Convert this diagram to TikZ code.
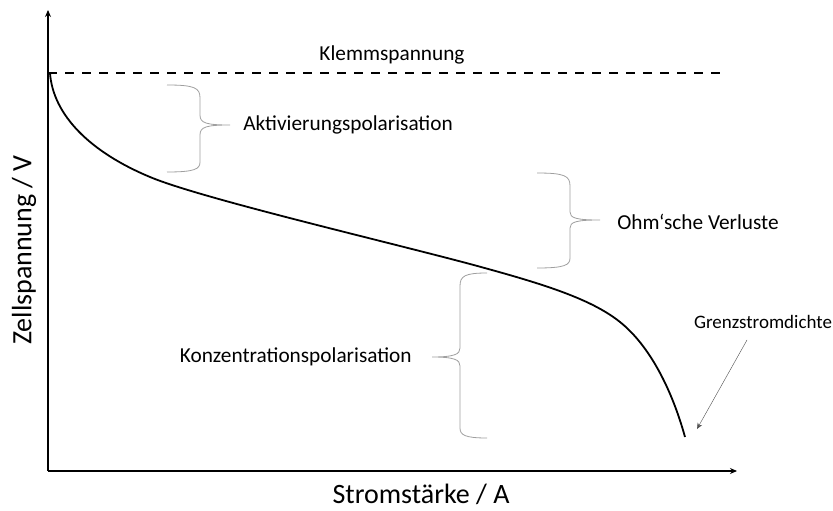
\documentclass[tikz,border=0pt]{standalone}
\usepackage{fontspec}
\setmainfont{Carlito}
\usetikzlibrary{arrows.meta, positioning}

\begin{document}
\begin{tikzpicture}[
            x = 1pt, y = -1pt, % pixel coordinates, y downwards
            > = {Stealth[length=7pt, width=6pt]}, % arrow head style
            semithick % line style
        ]

        \tikzstyle{axis}=[->, line width = 1.8pt]
        \tikzstyle{axislabel}=[font = \fontsize{28}{32}\selectfont, inner sep = 0pt]
        \tikzstyle{label}=[font = \fontsize{21.3}{25}\selectfont, inner sep = 0pt]
        \tikzstyle{bracket}=[draw = gray!75, line width = 0.8pt]
        \tikzstyle{pointer}=[->, draw = gray!60!black, thin, > = {Stealth[length=6pt, width=5pt]}]

        \useasboundingbox (0,0) rectangle (833,511);

        % axes
        \coordinate (O) at (48,471);
        \coordinate (ytop) at (48,10);
        \coordinate (xend) at (737,471);
        \draw[axis] (O) -- (ytop);
        \draw[axis] (O) -- (xend);

        \node[axislabel, rotate = 90] (ylab) at (24,250) {Zellspannung / V};
        \node[axislabel, anchor = base] (xlab) at (421,503) {Stromstärke / A};

        % Klemmspannung
        \coordinate (U0) at (48,73);
        \coordinate (U1) at (722,73);
        \draw[line width = 1.6pt, dash pattern = on 9pt off 8pt] (U0) -- (U1);
        \node[label] (klemm) at (392,55) {Klemmspannung};

        % Kennlinie
        \draw[line width = 1.8pt] (50,73)
            .. controls (53,115) and (90,152) .. (150,177)
            .. controls (200,198) and (380,240) .. (470,264)
            .. controls (540,283) and (590,298) .. (620,322)
            .. controls (650,346) and (672,390) .. (685,437);

        % Klammern
        \draw[bracket] (167,85) .. controls (195,85) and (200,88) .. (200,98)
            -- (200,115) .. controls (200,123) and (206,125) .. (230,125)
            .. controls (206,125) and (200,127) .. (200,135)
            -- (200,162) .. controls (200,169) and (195,172) .. (167,172);
        \node[label, anchor = west] (aktiv) at (243,125) {Aktivierungspolarisation};

        \draw[bracket] (537,173) .. controls (565,173) and (570,176) .. (570,186)
            -- (570,212) .. controls (570,218) and (576,220) .. (600,220)
            .. controls (576,220) and (570,222) .. (570,228)
            -- (570,258) .. controls (570,265) and (565,268) .. (537,268);
        \node[label, anchor = west] (ohm) at (617,222) {Ohm‘sche Verluste};

        \draw[bracket] (487,273) .. controls (465,273) and (460,276) .. (460,286)
            -- (460,348) .. controls (460,354) and (455,357) .. (432,357)
            .. controls (455,357) and (460,360) .. (460,366)
            -- (460,428) .. controls (460,435) and (465,438) .. (487,438);
        \node[label, anchor = east] (konz) at (412,357) {Konzentrationspolarisation};

        % Grenzstromdichte
        \node[label, font = \fontsize{19}{22}\selectfont] (grenz) at (763,322) {Grenzstromdichte};
        \coordinate (gstart) at (747,340);
        \coordinate (gtip) at (697,429);
        \draw[pointer] (gstart) -- (gtip);

\end{tikzpicture}
\end{document}
